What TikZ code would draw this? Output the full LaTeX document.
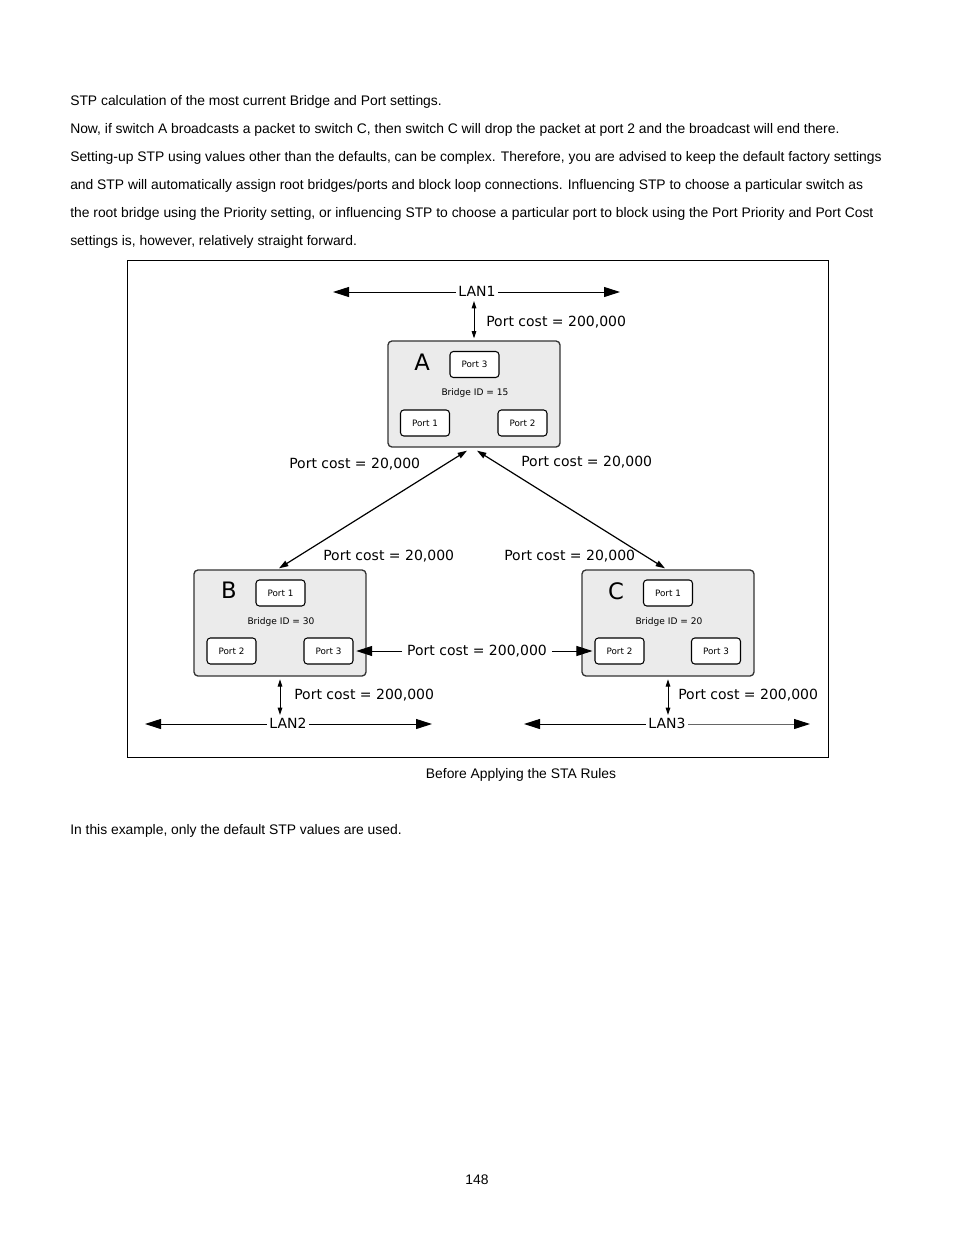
\documentclass[tikz,border=0pt]{standalone}
\usepackage{fontspec}
\setmainfont{Liberation Sans}
\newfontfamily\verd{DejaVu Sans}
\usetikzlibrary{arrows.meta,calc}
\begin{document}
\begin{tikzpicture}[x=0.75pt,y=-0.75pt,
  body/.style={inner sep=0pt,font=\fontsize{10.4}{12}\selectfont,text height=1.5ex,text depth=.25ex},
  lbl/.style={inner sep=0pt,font=\verd\fontsize{10.5}{12}\selectfont,text height=1.5ex,text depth=.25ex},
  lan/.style={inner sep=2pt,font=\verd\fontsize{10.5}{12}\selectfont,text height=1.5ex,text depth=.25ex},
  sw/.style={draw=black!80,fill=black!8,rounded corners=3pt,minimum width=129pt,minimum height=79.5pt,inner sep=0pt,line width=1pt},
  port/.style={draw=black,fill=white,rounded corners=2.5pt,minimum width=36.75pt,minimum height=19.5pt,inner sep=0pt,line width=0.8pt,font=\verd\fontsize{6.6}{8}\selectfont},
  bid/.style={inner sep=0pt,font=\verd\fontsize{6.8}{8}\selectfont},
  letter/.style={inner sep=0pt,font=\verd\fontsize{17}{20}\selectfont},
  bigarr/.style={line width=0.75pt,-{Triangle[length=12pt,width=7.5pt,color=black]}},
  smallarr/.style={line width=0.75pt,{Triangle[length=5.5pt,width=3.5pt]}-{Triangle[length=5.5pt,width=3.5pt]}},
  diagarr/.style={line width=0.9pt,{Triangle[length=7pt,width=4.5pt]}-{Triangle[length=7pt,width=4.5pt]}}]
\useasboundingbox (0,0) rectangle (954,1235);

% body text
\node[body,anchor=west] (t1) at (70,101) {STP calculation of the most current Bridge and Port settings.};
\node[body,anchor=west] (t2) at (70,129) {Now, if switch A broadcasts a packet to switch C, then switch C will drop the packet at port 2 and the broadcast will end there.};
\node[body,anchor=west] (t3) at (70,157) {Setting-up STP using values other than the defaults, can be complex. Therefore, you are advised to keep the default factory settings};
\node[body,anchor=west] (t4) at (70,185) {and STP will automatically assign root bridges/ports and block loop connections. Influencing STP to choose a particular switch as};
\node[body,anchor=west] (t5) at (70,213) {the root bridge using the Priority setting, or influencing STP to choose a particular port to block using the Port Priority and Port Cost};
\node[body,anchor=west] (t6) at (70,241) {settings is, however, relatively straight forward.};

% frame
\draw[line width=0.75pt] (127,260) rectangle (828,757);

% switches
\node[sw] (A) at (474,394) {};
\node[letter] (Al) at (422,362) {A};
\node[port] (A3) at (474.5,364.5) {Port 3};
\node[bid] (Ab) at (475,393) {Bridge ID = 15};
\node[port] (A1) at (425,423) {Port 1};
\node[port] (A2) at (522.5,423) {Port 2};

\node[sw] (B) at (280,623) {};
\node[letter] (Bl) at (229,590) {B};
\node[port] (B1) at (280.5,593) {Port 1};
\node[bid] (Bb) at (281,622) {Bridge ID = 30};
\node[port] (B2) at (231.5,651) {Port 2};
\node[port] (B3) at (328.5,651) {Port 3};

\node[sw] (C) at (668,623) {};
\node[letter] (Cl) at (616,591) {C};
\node[port] (C1) at (668,593) {Port 1};
\node[bid] (Cb) at (669,622) {Bridge ID = 20};
\node[port] (C2) at (619.5,651) {Port 2};
\node[port] (C3) at (716,651) {Port 3};

% LAN1
\node[lan] (lan1) at (477,292) {LAN1};
\coordinate (l1l) at (333,292);
\coordinate (l1r) at (620,292);
\draw[bigarr] (lan1) -- (l1l);
\draw[bigarr] (lan1) -- (l1r);
\draw[smallarr] (A.north |- lan1.south) -- ([yshift=1.5pt]A.north);
\node[lbl,anchor=west] (pcA) at (486,322) {Port cost = 200,000};

% diagonals
\draw[diagarr] ($(A.south)+(-7,3)$) -- ($(B.north)+(-1,-1)$);
\draw[diagarr] ($(A.south)+(3,3)$) -- ($(C.north)+(-3,-1)$);
\node[lbl,anchor=west] (pcAB) at (289,464) {Port cost = 20,000};
\node[lbl,anchor=west] (pcAC) at (521,462) {Port cost = 20,000};
\node[lbl,anchor=west] (pcBA) at (323,556) {Port cost = 20,000};
\node[lbl,anchor=west] (pcCA) at (504,556) {Port cost = 20,000};

% B-C
\node[lbl,inner sep=3.5pt] (pcBC) at (477,651) {Port cost = 200,000};
\draw[bigarr,shorten >=2pt] (pcBC) -- (B3.east);
\draw[bigarr,shorten >=1.5pt] (pcBC) -- (C2.west);

% LAN2
\node[lan] (lan2) at (288,724) {LAN2};
\coordinate (l2l) at (145,724);
\coordinate (l2r) at (432,724);
\draw[bigarr] (lan2) -- (l2l);
\draw[bigarr] (lan2) -- (l2r);
\draw[smallarr] ([yshift=-2pt]B.south) -- (B.south |- lan2.north);
\node[lbl,anchor=west] (pcB) at (294,695) {Port cost = 200,000};

% LAN3
\node[lan] (lan3) at (667,724) {LAN3};
\coordinate (l3l) at (524,724);
\coordinate (l3r) at (810,724);
\draw[bigarr] (lan3) -- (l3l);
\draw[bigarr,draw=black!60] (lan3) -- (l3r);
\draw[smallarr] ([yshift=-2pt]C.south) -- (C.south |- lan3.north);
\node[lbl,anchor=west] (pcC) at (678,695) {Port cost = 200,000};

% caption and rest
\node[body] (cap) at (521,774) {Before Applying the STA Rules};
\node[body,anchor=west] (t7) at (70,830) {In this example, only the default STP values are used.};
\node[body] (pg) at (477,1180) {148};
\end{tikzpicture}
\end{document}
